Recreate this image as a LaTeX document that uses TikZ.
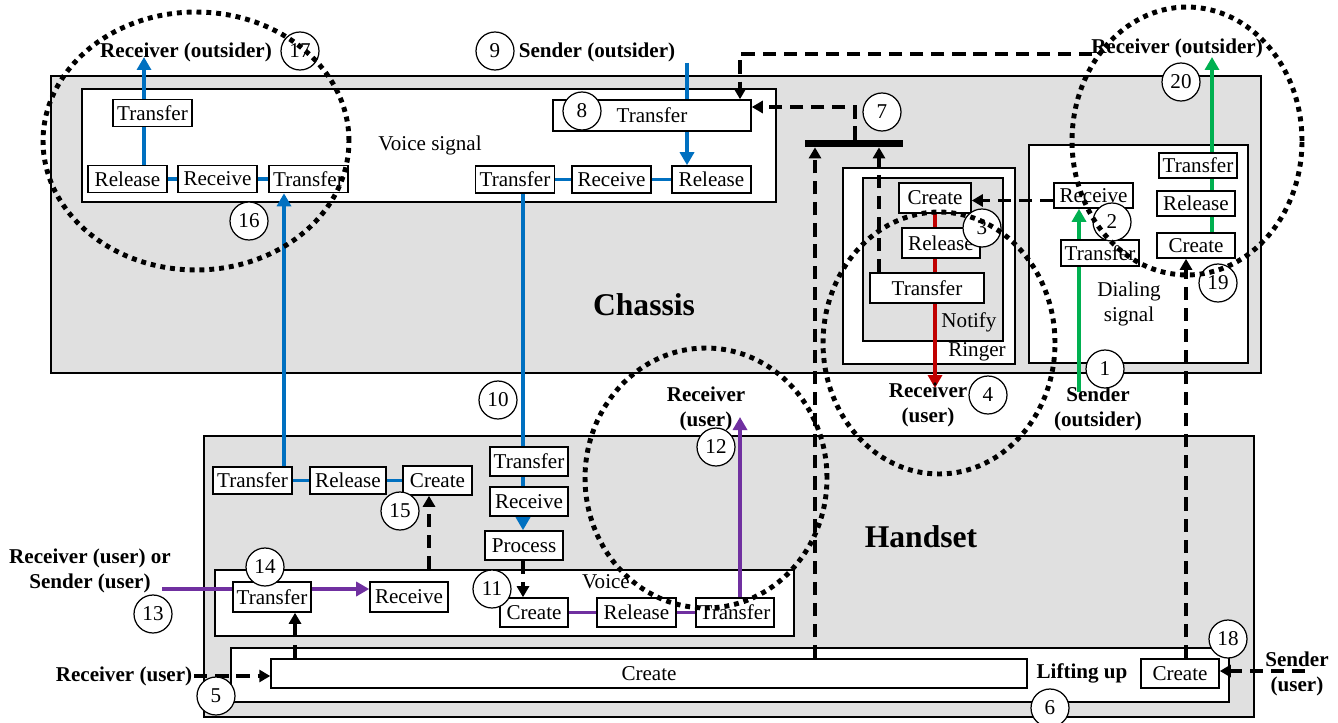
\documentclass[tikz,border=0pt]{standalone}
\usepackage{fontspec}
\setmainfont{Liberation Serif}
\usetikzlibrary{arrows.meta,positioning,calc}
\definecolor{wireblue}{RGB}{0,112,192}
\definecolor{wiregreen}{RGB}{0,176,80}
\definecolor{wirered}{RGB}{192,0,0}
\definecolor{wirepurple}{RGB}{112,48,160}
\definecolor{shell}{RGB}{224,224,224}
\pgfdeclarelayer{panels}
\pgfdeclarelayer{wires}
\pgfsetlayers{panels,wires,main}
\tikzset{
  >={Triangle[length=2.6mm,width=2.8mm]},
  unit/.style={draw,line width=1pt,fill=#1,inner sep=0pt,anchor=north west},
  unit/.default=white,
  op/.style={draw,fill=white,line width=0.9pt,inner xsep=2pt,inner ysep=0pt,
    minimum width=#1,minimum height=5.4mm,font=\fontsize{12}{14}\selectfont},
  op/.default=1.58cm,
  num/.style={circle,draw,fill=white,line width=0.7pt,minimum size=7.6mm,inner sep=0pt,
    font=\fontsize{12}{14}\selectfont},
  actor/.style={font=\fontsize{12}{14}\selectfont\bfseries,align=center,inner sep=1pt},
  caption/.style={font=\fontsize{12}{14}\selectfont,align=center,inner sep=0pt},
  bigname/.style={font=\fontsize{18}{20}\selectfont\bfseries},
  flow/.style={->,line width=2pt,draw=#1},
  tie/.style={line width=2pt,draw=#1},
  trigger/.style={->,line width=1.9pt,dash pattern=on 7.5pt off 4.5pt,
    >={Triangle[length=2.2mm,width=2.4mm]}},
  scopering/.style={line width=2.8pt,dash pattern=on 2.8pt off 2.8pt},
}

\begin{document}
\begin{tikzpicture}[x=0.02cm,y=-0.02cm]
  \useasboundingbox (0,0) rectangle (1338,723);

  % containers
  \begin{pgfonlayer}{panels}
    \node[unit=shell,minimum width=24.2cm,minimum height=5.94cm] (chassis) at (50,75) {};
    \node[unit,minimum width=13.88cm,minimum height=2.26cm] (voiceSig) at (81,88) {};
    \node[unit,minimum width=3.44cm,minimum height=3.92cm] (ringer) at (842,167) {};
    \node[unit=shell,minimum width=2.8cm,minimum height=3.26cm] (notify) at (862,177) {};
    \node[unit,minimum width=4.38cm,minimum height=4.36cm] (dialing) at (1028,144) {};
    \node[unit=shell,minimum width=21cm,minimum height=5.62cm] (handset) at (203,435) {};
    \node[unit,minimum width=11.58cm,minimum height=1.32cm] (voiceBox) at (214,569) {};
    \node[unit,minimum width=19.96cm,minimum height=1.08cm] (lifting) at (230,647) {};
  \end{pgfonlayer}

  \node[bigname] (chassisName) at (644,305) {Chassis};
  \node[bigname] (handsetName) at (921,537) {Handset};
  \node[caption] (voiceSigName) at (430,145) {Voice signal};
  \node[caption] (ringerName) at (977,352) {Ringer};
  \node[caption] (notifyName) at (969,322) {Notify};
  \node[caption] (dialingName) at (1129,304) {Dialing\\signal};
  \node[caption] (voiceName) at (606,582) {Voice};
  \node[actor] (liftName) at (1082,673) {Lifting up};

  % chassis operations
  \node[op] (vsTrA) at (152.5,113) {Transfer};
  \node[op] (vsRel) at (127.5,179) {Release};
  \node[op] (vsRcv) at (217.5,179) {Receive};
  \node[op] (vsTrB) at (308.5,179) {Transfer};
  \node[op=3.96cm,minimum height=6.2mm] (vsTrC) at (652,115.5) {Transfer};
  \node[op] (vsTrD) at (515,179.5) {Transfer};
  \node[op] (vsRcv2) at (611.5,179.5) {Receive};
  \node[op] (vsRel2) at (711.5,179.5) {Release};
  \node[op=1.44cm,minimum height=6mm] (rgCreate) at (935,198) {Create};
  \node[op=1.56cm,minimum height=6mm] (rgRel) at (941,243) {Release};
  \node[op=2.28cm,minimum height=6mm] (rgTr) at (927,288) {Transfer};
  \node[op,minimum height=5mm] (dsRcv) at (1093.5,195.5) {Receive};
  \node[op=1.56cm,minimum height=5.2mm] (dsTr) at (1100,253) {Transfer};
  \node[op=1.56cm,minimum height=5mm] (dsTr2) at (1198,165.5) {Transfer};
  \node[op=1.56cm,minimum height=5mm] (dsRel) at (1196,203.5) {Release};
  \node[op=1.56cm,minimum height=5mm] (dsCreate) at (1196,245.5) {Create};
  \node[fill=black,minimum width=1.96cm,minimum height=0.14cm,inner sep=0pt] (bar) at (854,143.5) {};

  % handset operations
  \node[op] (hsTr) at (252.5,480.5) {Transfer};
  \node[op=1.52cm] (hsRel) at (348,480.5) {Release};
  \node[op=1.38cm,minimum height=5.8mm] (hsCreate) at (437.5,480.5) {Create};
  \node[op=1.56cm,minimum height=5.8mm] (hsTr2) at (529,461.5) {Transfer};
  \node[op=1.56cm,minimum height=5.8mm] (hsRcv) at (529,501.5) {Receive};
  \node[op=1.56cm,minimum height=5.8mm] (hsProc) at (524,545.5) {Process};
  \node[op=1.56cm,minimum height=6mm] (vcTr) at (272,597) {Transfer};
  \node[op=1.56cm,minimum height=6mm] (vcRcv) at (409,597) {Receive};
  \node[op=1.36cm,minimum height=5.8mm] (vcCreate) at (534,612.5) {Create};
  \node[op,minimum height=5.8mm] (vcRel) at (636.5,612.5) {Release};
  \node[op=1.56cm,minimum height=5.8mm] (vcTr2) at (735,612.5) {Transfer};
  \node[op=15.12cm,minimum height=5.8mm] (luCreate) at (649,673.5) {Create};
  \node[op=1.56cm,minimum height=5.8mm] (luCreate2) at (1180,673.5) {Create};

  % actors
  \node[actor] (rcvOut) at (186,52) {Receiver (outsider)};
  \node[actor] (sndOut) at (597,52) {Sender (outsider)};
  \node[actor] (rcvOut2) at (1177,48) {Receiver (outsider)};
  \node[actor] (rcvUser) at (928,405) {Receiver\\(user)};
  \node[actor] (sndOutsider) at (1098,409) {Sender\\(outsider)};
  \node[actor] (rcvUser2) at (706,409) {Receiver\\(user)};
  \node[actor] (mixUser) at (90,571) {Receiver (user) or\\Sender (user)};
  \node[actor] (rcvUser3) at (124,676) {Receiver (user)};
  \node[actor] (sndUser) at (1297,674) {Sender\\(user)};

  % free ends and rails
  \coordinate (tipBlL) at (144,57);
  \coordinate (srcBl) at (687,63);
  \coordinate (railB16) at (284,0);
  \coordinate (railB10) at (523,0);
  \coordinate (topRun) at (1092,54);
  \coordinate (railTop) at (740,0);
  \coordinate (railBar) at (855,0);
  \coordinate (railL) at (815,0);
  \coordinate (railR) at (879,0);
  \coordinate (tipRed) at (935,388);
  \coordinate (grStart) at (1079,392);
  \coordinate (tipGrR) at (1212,57);
  \coordinate (railDs) at (1186,0);
  \coordinate (railV) at (429,0);
  \coordinate (railLu) at (295,0);
  \coordinate (mixEnd) at (162,589);
  \coordinate (tipPu) at (740,417);
  \coordinate (sndUserLine) at (1305,671);

  \begin{pgfonlayer}{wires}
    % voice signal (blue)
    \draw[flow=wireblue] (vsRel.north -| tipBlL) -- (tipBlL);
    \draw[tie=wireblue] (vsRel) -- (vsTrB);
    \draw[flow=wireblue] (hsTr.north -| railB16) -- (vsTrB.south -| railB16);
    \draw[flow=wireblue] (srcBl) -- (srcBl |- vsRel2.north);
    \draw[tie=wireblue] (vsTrD) -- (vsRel2);
    \draw[flow=wireblue] (vsTrD.south -| railB10) -- (hsProc.north -| railB10);
    \draw[tie=wireblue] (hsTr) -- (hsCreate);
    % ringer (red) and dialing (green)
    \draw[flow=wirered] (rgCreate.south) -- (tipRed);
    \draw[flow=wiregreen] (grStart) -- (grStart |- dsRcv.south);
    \draw[flow=wiregreen] (dsCreate.north -| tipGrR) -- (tipGrR);
    % voice (purple)
    \draw[flow=wirepurple] (mixEnd) -- (mixEnd -| vcRcv.west);
    \draw[tie=wirepurple] (vcCreate) -- (vcTr2);
    \draw[flow=wirepurple] (vcTr2.north -| tipPu) -- (tipPu);
    % triggers
    \draw[trigger] (topRun) -| (railTop |- vsTrC.north);
    \draw[trigger] (bar.north -| railBar) |- ([yshift=0.17cm]vsTrC.east);
    \draw[trigger] (luCreate.north -| railL) -- (bar.south -| railL);
    \draw[trigger] (rgTr.north -| railR) -- (bar.south -| railR);
    \draw[trigger] ([yshift=-0.1cm]dsRcv.west) -- ([yshift=-0.1cm]dsRcv.west -| rgCreate.east);
    \draw[trigger] (luCreate2.north -| railDs) -- (dsCreate.south -| railDs);
    \draw[trigger] (voiceBox.north -| railV) -- (hsCreate.south -| railV);
    \draw[trigger] (hsProc.south -| railB10) -- (vcCreate.north -| railB10);
    \draw[trigger] (luCreate.north -| railLu) -- (vcTr.south -| railLu);
    \draw[trigger] (rcvUser3.east) -- (rcvUser3.east -| luCreate.west);
    \draw[trigger] (sndUserLine) -- (sndUserLine -| luCreate2.east);
  \end{pgfonlayer}

  % step numbers
  \node[num] (n1) at (1105,369) {1};
  \node[num] (n2) at (1112,222) {2};
  \node[num] (n3) at (982,228) {3};
  \node[num] (n4) at (988,395) {4};
  \node[num] (n5) at (216,696) {5};
  \node[num] (n6) at (1050,708) {6};
  \node[num] (n7) at (882,112) {7};
  \node[num] (n8) at (582,111) {8};
  \node[num] (n9) at (495,51) {9};
  \node[num] (n10) at (498,400) {10};
  \node[num] (n11) at (492,589) {11};
  \node[num] (n12) at (716,447) {12};
  \node[num] (n13) at (153,614) {13};
  \node[num] (n14) at (265,567) {14};
  \node[num] (n15) at (400,511) {15};
  \node[num] (n16) at (249,221) {16};
  \node[num] (n17) at (300,51) {17};
  \node[num] (n18) at (1228,639) {18};
  \node[num] (n19) at (1218,283) {19};
  \node[num] (n20) at (1181,82) {20};

  % scope rings
  \draw[scopering] (196,141) ellipse [x radius=3.06cm, y radius=2.58cm];
  \draw[scopering] (1187,141) ellipse [x radius=2.3cm, y radius=2.68cm];
  \draw[scopering] (939,343) ellipse [x radius=2.32cm, y radius=2.62cm];
  \draw[scopering] (706,478) ellipse [x radius=2.42cm, y radius=2.6cm];
\end{tikzpicture}
\end{document}
